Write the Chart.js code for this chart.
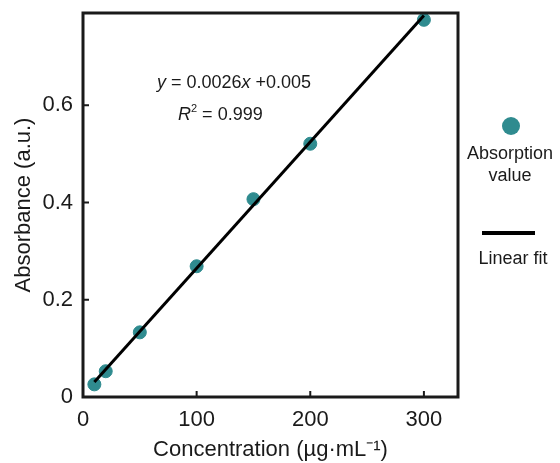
<!DOCTYPE html>
<html>
<head>
<meta charset="utf-8">
<script src="https://cdn.jsdelivr.net/npm/chart.js@4/dist/chart.umd.min.js"></script>
<style>
    html, body { margin: 0; padding: 0; background: #fff; }
    #wrap { width: 560px; height: 463px; }
</style>
</head>
<body>
<div id="wrap"><canvas id="chart" width="560" height="463"></canvas></div>
<script>
const concentration = [10, 20, 50, 100, 150, 200, 300];
const absorbance = [0.026, 0.053, 0.133, 0.269, 0.407, 0.521, 0.776];
const fitX = [10, 300];
const fitY = [0.031, 0.785];
const xTicks = [0, 100, 200, 300];
const yTicks = [0, 0.2, 0.4, 0.6];

const teal = '#2f8b8f';
const ink = '#1a1a1a';
const font = '"Liberation Sans", Arial, sans-serif';

const frame = {
    id: 'frame',
    afterDatasetsDraw(chart) {
        const { ctx, chartArea: a, scales } = chart;
        ctx.save();
        ctx.strokeStyle = ink;
        ctx.lineWidth = 3;
        ctx.strokeRect(a.left, a.top, a.right - a.left, a.bottom - a.top);

        // inward ticks
        ctx.lineWidth = 2;
        ctx.beginPath();
        xTicks.forEach(v => {
            const px = scales.x.getPixelForValue(v);
            ctx.moveTo(px, a.bottom);
            ctx.lineTo(px, a.bottom - 6);
        });
        yTicks.forEach(v => {
            const py = scales.y.getPixelForValue(v);
            ctx.moveTo(a.left, py);
            ctx.lineTo(a.left + 6, py);
        });
        ctx.stroke();

        // equation
        ctx.fillStyle = ink;
        ctx.textBaseline = 'middle';
        ctx.textAlign = 'left';
        let x = 157;
        const parts = [['italic', 'y'], ['normal', ' = 0.0026'], ['italic', 'x'], ['normal', ' +0.005']];
        parts.forEach(([style, t]) => {
            ctx.font = `${style} 18px ${font}`;
            ctx.fillText(t, x, 83);
            x += ctx.measureText(t).width;
        });
        x = 178;
        ctx.font = `italic 18px ${font}`;
        ctx.fillText('R', x, 115);
        x += ctx.measureText('R').width;
        ctx.font = `11px ${font}`;
        ctx.fillText('2', x, 109);
        x += ctx.measureText('2').width;
        ctx.font = `18px ${font}`;
        ctx.fillText(' = 0.999', x, 115);

        // legend
        ctx.fillStyle = teal;
        ctx.beginPath();
        ctx.arc(511, 126, 9, 0, Math.PI * 2);
        ctx.fill();
        ctx.fillStyle = ink;
        ctx.textAlign = 'center';
        ctx.font = `18px ${font}`;
        ctx.fillText('Absorption', 510, 154);
        ctx.fillText('value', 510, 176);
        ctx.strokeStyle = '#000';
        ctx.lineWidth = 4;
        ctx.beginPath();
        ctx.moveTo(482, 233);
        ctx.lineTo(535, 233);
        ctx.stroke();
        ctx.fillText('Linear fit', 513, 259);
        ctx.restore();
    }
};

new Chart(document.getElementById('chart'), {
    type: 'scatter',
    data: {
        datasets: [
            {
                type: 'line',
                label: 'Linear fit',
                data: fitX.map((x, i) => ({ x, y: fitY[i] })),
                borderColor: '#000',
                borderWidth: 3,
                pointRadius: 0,
                fill: false,
                order: 1
            },
            {
                label: 'Absorption value',
                data: concentration.map((x, i) => ({ x, y: absorbance[i] })),
                backgroundColor: teal,
                borderColor: teal,
                pointRadius: 6.5,
                order: 2
            }
        ]
    },
    plugins: [frame],
    options: {
        responsive: false,
        animation: false,
        layout: { padding: { left: 0, right: 102, top: 13, bottom: 0 } },
        plugins: {
            legend: { display: false },
            tooltip: { enabled: false }
        },
        scales: {
            x: {
                type: 'linear',
                min: 0,
                max: 330,
                afterBuildTicks: s => { s.ticks = xTicks.map(value => ({ value })); },
                afterFit: s => { s.height = 66; s.paddingLeft = 0; s.paddingRight = 0; },
                grid: { display: false, drawTicks: false },
                border: { display: false },
                ticks: { color: ink, font: { family: font, size: 22 }, padding: 10, maxRotation: 0 },
                title: { display: true, text: 'Concentration (µg·mL⁻¹)', color: ink, font: { family: font, size: 22 }, padding: { top: 0, bottom: 0 } }
            },
            y: {
                min: 0,
                max: 0.79,
                afterBuildTicks: s => { s.ticks = yTicks.map(value => ({ value })); },
                afterFit: s => { s.width = 83; s.paddingTop = 0; s.paddingBottom = 0; },
                grid: { display: false, drawTicks: false },
                border: { display: false },
                ticks: {
                    color: ink,
                    font: { family: font, size: 22 },
                    padding: 10,
                    callback: v => v === 0 ? '0' : v.toFixed(1)
                },
                title: { display: true, text: 'Absorbance (a.u.)', color: ink, font: { family: font, size: 22 }, padding: { top: 11, bottom: 0 } }
            }
        }
    }
});
</script>
</body>
</html>
